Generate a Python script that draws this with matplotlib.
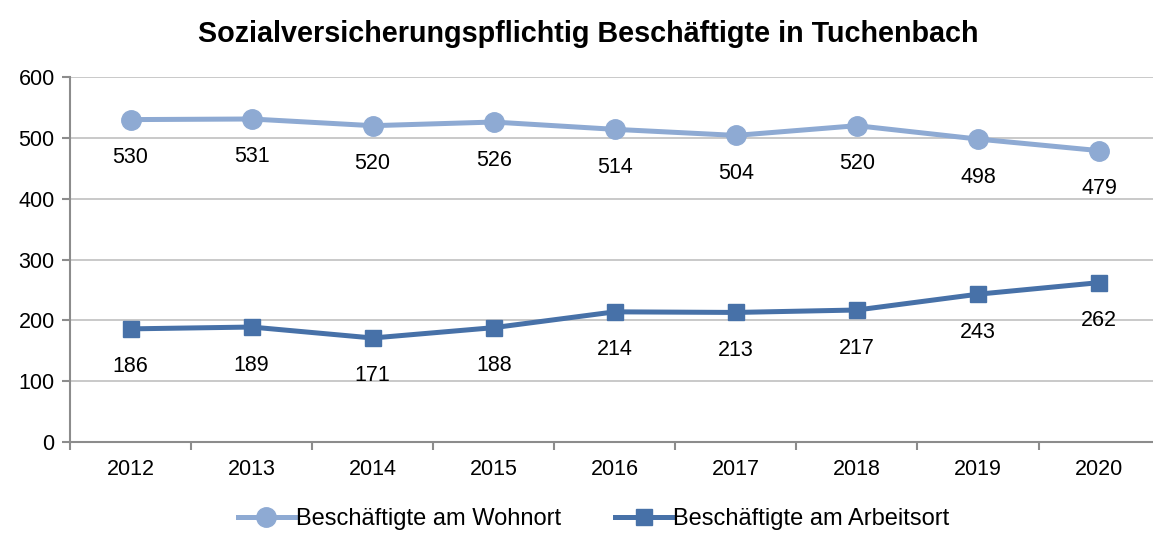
import matplotlib
matplotlib.use("Agg")
from matplotlib import pyplot as plt

plt.rcParams['font.family'] = ['Liberation Sans', 'DejaVu Sans']

years = ["2012", "2013", "2014", "2015", "2016", "2017", "2018", "2019", "2020"]
wohnort = [530, 531, 520, 526, 514, 504, 520, 498, 479]
arbeitsort = [186, 189, 171, 188, 214, 213, 217, 243, 262]

light = "#8eaad3"
dark = "#4771a8"
grid = "#c0c0c0"
axis_col = "#8c8c8c"

fig = plt.figure(figsize=(11.53, 5.33), dpi=100)
ax = fig.add_axes([0.0607, 0.1707, 0.945, 0.6848])

x = list(range(len(years)))
ax.plot(x, wohnort, color=light, lw=3.6, marker="o", markersize=14,
        label="Beschäftigte am Wohnort", zorder=3)
ax.plot(x, arbeitsort, color=dark, lw=3.6, marker="s", markersize=12,
        label="Beschäftigte am Arbeitsort", zorder=3)

for i in x:
    ax.annotate(str(wohnort[i]), (i, wohnort[i]), xytext=(0, -38),
                textcoords="offset pixels", ha="center", va="center", fontsize=15.5)
    ax.annotate(str(arbeitsort[i]), (i, arbeitsort[i]), xytext=(0, -38),
                textcoords="offset pixels", ha="center", va="center", fontsize=15.5)

ax.set_xlim(-0.5, len(years) - 0.5)
ax.set_ylim(0, 600)
ax.set_yticks(range(0, 601, 100))
ax.set_xticks(x)
ax.set_xticklabels(years)
ax.set_xticks([i - 0.5 for i in range(len(years) + 1)], minor=True)
ax.tick_params(axis="x", which="major", length=0, labelsize=15.5, pad=12)
ax.tick_params(axis="x", which="minor", length=6, color=axis_col, width=1.5)
ax.tick_params(axis="y", length=6, color=axis_col, width=1.5, labelsize=15.5, pad=5)

ax.grid(axis="y", color=grid, lw=1.2)
ax.set_axisbelow(True)
for s in ["top", "right"]:
    ax.spines[s].set_visible(False)
ax.spines["left"].set_color(axis_col)
ax.spines["bottom"].set_color(axis_col)
ax.spines["left"].set_linewidth(1.5)
ax.spines["bottom"].set_linewidth(1.5)

fig.suptitle("Sozialversicherungspflichtig Beschäftigte in Tuchenbach",
             x=0.51, y=0.962, fontsize=20.7, fontweight="bold")

fig.legend(loc="lower center", bbox_to_anchor=(0.515, -0.035), ncol=2, frameon=False,
           fontsize=17, handlelength=2.4, handletextpad=0.05, columnspacing=2.3)

fig.savefig("out.png", dpi=100)
